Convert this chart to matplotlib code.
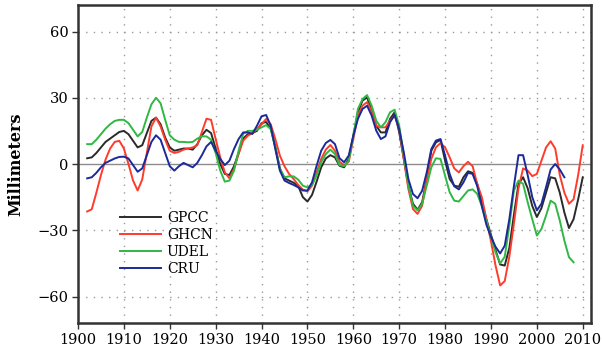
import matplotlib
matplotlib.use("Agg")
import matplotlib.pyplot as plt

# Annual precipitation anomalies (mm), smoothed
years_gpcc = list(range(1902, 2011))
years_ghcn = list(range(1902, 2011))
years_udel = list(range(1902, 2009))
years_cru = list(range(1902, 2007))

gpcc = [
    2.6, 3, 5, 7.5, 10, 11.5, 13, 14.5, 15, 13.5,
    10.5, 7.5, 8.5, 14, 19.5, 21, 18, 12, 7.5, 6,
    6.5, 7, 7, 6.5, 9, 13, 15.5, 14, 7, 0,
    -4.5, -5, -1, 5, 11.5, 13.5, 14, 15, 18.5, 19,
    16, 8, -2, -6.5, -7.5, -8.5, -10, -15, -17, -14,
    -8, -1.5, 2.5, 4, 3, -0.8, -1.5, 2.3, 12.8, 23.4,
    28.7, 30.2, 24, 17.3, 14.3, 14.3, 20.4, 23.4, 14.3, 2.3,
    -9.8, -18, -20.7, -17.3, -6.8, 6, 9.8, 10.9, 1.5, -6.8,
    -9.8, -10.3, -6, -3.3, -4, -9, -17, -25, -32, -39,
    -45.5, -46, -38, -23, -9, -6, -11, -19, -24, -20,
    -13, -6, -6.5, -13, -22, -29, -25, -16, -6,
]

ghcn = [
    -21.5, -20.5, -13, -5, 2, 7, 10, 10.5, 7, 0,
    -7.5, -12, -7, 5, 17, 21, 17, 11, 6, 5,
    5.5, 6.5, 7, 7.5, 8.5, 14.5, 20.5, 20, 11.3, 3,
    -3.8, -6.5, -2.3, 4.5, 10.6, 12.8, 14, 15.8, 18, 20.4,
    18, 11.3, 3.8, -1, -4.5, -6.8, -9.5, -11.6, -12.4, -9.8,
    -3.8, 2.3, 6.5, 8.6, 6, 1, -0.5, 1, 11.3, 21.9,
    26.4, 28, 24, 17.3, 16.6, 16.6, 19.6, 21.9, 15.8, 2.3,
    -11.3, -20.4, -22.6, -18.9, -6.8, 2.3, 7.5, 9.5, 7.5, 3,
    -2, -3.8, -1, 1, -1, -9, -15, -25, -35, -46,
    -55, -53, -42, -27, -11, -2, -3, -5.5, -4.5, 1.5,
    7.5, 10.3, 7, -5, -13, -18, -16, -5, 8.5,
]

udel = [
    9, 9, 11, 13.5, 16, 18, 19.5, 20, 20, 18.5,
    15.5, 12.5, 14.5, 21, 27, 30, 27.5, 20, 13, 11,
    10, 10, 9.8, 10, 11.5, 12.5, 12.5, 11, 5, -3,
    -8, -7.5, -3, 6, 13.6, 15, 15, 15.5, 16.6, 17.6,
    15.8, 7.5, -2.3, -6, -5.6, -5.6, -7.1, -9.8, -10.6, -9.5,
    -5.3, 0.8, 4.5, 6.5, 4.5, -0.5, -1, 1.5, 12.8, 24.9,
    29.4, 31.2, 26.4, 19.6, 16.6, 18.9, 23.4, 24.6, 17.3, 3.8,
    -9.8, -18.9, -21, -18, -9.8, -1.5, 2.6, 2.3, -5.3, -12.8,
    -16.6, -17, -14.5, -12, -11.5, -13.5, -19, -26, -33, -40,
    -45, -42, -28, -12, -7.5, -9, -17.3, -25, -32.4, -29.4,
    -23.4, -16.6, -18, -25.6, -34.7, -42.2, -44.5,
]

cru = [
    -6.5, -6, -4, -1.5, 0.5, 1.5, 2.5, 3.2, 3.3, 2.5,
    -0.5, -3.5, -2, 4, 10, 13, 11, 5, -1, -3,
    -1, 0.5, -0.5, -1.5, 0.5, 4, 8, 10, 6, 2.3,
    -0.5, 1.5, 6.8, 11.3, 14.3, 14.3, 13.6, 17.3, 21.6, 22.2,
    17.3, 6.8, -3, -7.5, -8.6, -9.5, -10.6, -12, -12, -8.3,
    -0.8, 6, 9.5, 10.9, 9, 2.6, 0.8, 3.8, 12.8, 20.4,
    24.9, 26.4, 21.9, 15.1, 11.3, 12.5, 18.9, 22.2, 15.8, 5.3,
    -6.8, -13.6, -15.5, -12.1, -3.8, 6.8, 10.6, 11.3, 3.8, -4.5,
    -10.1, -11.5, -8.3, -4, -4.5, -10, -19, -27.5, -33, -37.5,
    -40.5, -37, -25, -10, 4, 4, -5, -15, -21, -18,
    -10.5, -2.5, 0, -2.5, -6,
]

x_ticks = list(range(1900, 2011, 10))
y_ticks = [-60, -30, 0, 30, 60]

series = [
    ("GPCC", years_gpcc, gpcc, "#2a2a2a"),
    ("GHCN", years_ghcn, ghcn, "#ff3b2b"),
    ("UDEL", years_udel, udel, "#2fb843"),
    ("CRU", years_cru, cru, "#1b2a9a"),
]

plt.rcParams["font.family"] = ["DejaVu Serif"]

fig = plt.figure(figsize=(6.02, 3.51), dpi=100)
ax = fig.add_axes([78 / 602, 1 - 323 / 351, (591 - 78) / 602, (323 - 5) / 351])

# dotted reference grid
for xv in x_ticks[1:]:
    ax.axvline(xv, color="#9a9a9a", lw=1.0, ls=(0, (1, 4.5)), zorder=1)
for yv in [-60, -30, 30, 60]:
    ax.axhline(yv, color="#9a9a9a", lw=1.0, ls=(0, (1, 4.5)), zorder=1)
ax.axhline(0, color="#8c8c8c", lw=1.0, zorder=2)

for name, yrs, vals, col in series:
    ax.plot(yrs, vals, color=col, lw=1.4, label=name, zorder=3)

ax.set_xlim(1900, 2011.8)
ax.set_ylim(-72, 72)
ax.set_xticks(x_ticks)
ax.set_yticks(y_ticks)
ax.tick_params(axis="both", direction="out", length=4, width=1.0,
               labelsize=10.5, color="#333333", pad=3)
for sp in ax.spines.values():
    sp.set_linewidth(1.8)
    sp.set_color("#333333")

ax.set_ylabel("Millimeters", fontsize=11.5, fontweight="bold", labelpad=9)

leg = ax.legend(loc="upper left", bbox_to_anchor=(0.062, 0.382), frameon=False,
                fontsize=10, handlelength=3.0, handletextpad=0.4,
                labelspacing=0.2, borderpad=0.2)

fig.savefig("out.png", dpi=100)
